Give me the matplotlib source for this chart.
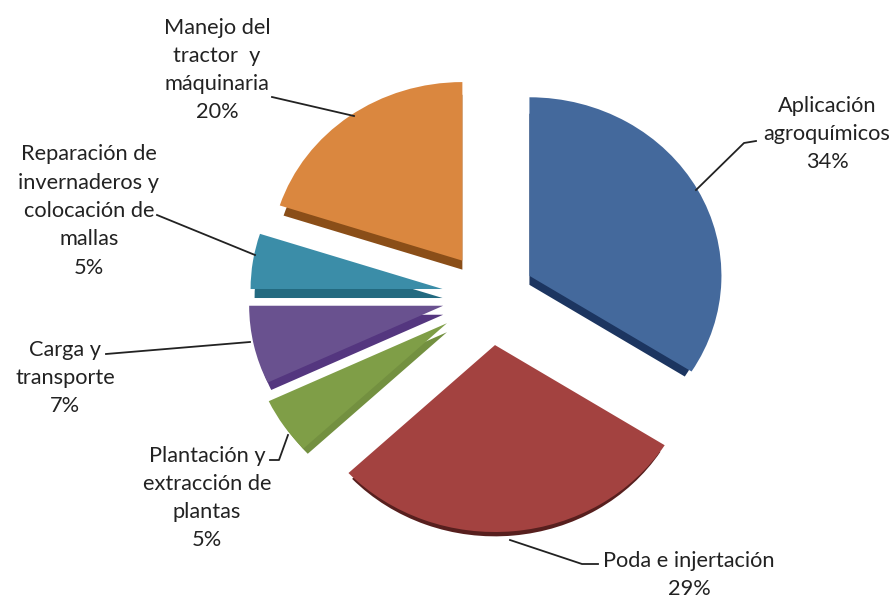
import matplotlib
matplotlib.use("Agg")
import matplotlib.pyplot as plt

categories = ["Aplicación\nagroquímicos", "Poda e injertación", "Plantación y\nextracción de\nplantas",
              "Carga y\ntransporte", "Reparación de\ninvernaderos y\ncolocación de\nmallas", "Manejo del\ntractor  y\nmáquinaria"]
values = [34, 29, 5, 7, 5, 20]
explode = [45, 53, 52, 48, 48, 47]
colors = ["#44699C", "#A34240", "#7F9E47", "#69518F", "#3B8DA8", "#DA873F"]
dark = ["#1C3560", "#571F1E", "#739040", "#54367F", "#236A80", "#8A4E18"]
radii = [192, 201, 197, 194, 192, 192]
depth_radii = [184, 196, 191, 190, 188, 188]
label_pos = [(827, 134), (689, 575), (207, 498), (65, 378), (89, 211), (217, 70)]
leaders = [([696, 744, 756], [190, 143, 141]), ([510, 582, 598], [540, 564, 564]),
           ([288, 279, 270], [435, 460, 460]), ([106, 250], [354, 342]),
           ([157, 255], [215, 255]), ([272, 354], [97, 116])]

W, H = 896, 600
RATIO = 0.93
CX, CY = 490, 296

fig = plt.figure(figsize=(W / 100, H / 100), dpi=100, facecolor="white")
ax = fig.add_axes([0, 0, 1, 1])

def draw(cy, rad, cols):
    wedges, _ = ax.pie(values, explode=explode, colors=cols, startangle=90, counterclock=False,
                       radius=192, center=(CX, (H - cy) / RATIO), frame=True,
                       wedgeprops=dict(linewidth=0))
    for w, r in zip(wedges, rad):
        w.set_radius(r)

draw(CY + 9, depth_radii, dark)
draw(CY, radii, colors)
ax.set_aspect("auto")
ax.set_xlim(0, W)
ax.set_ylim(0, H / RATIO)
ax.axis("off")

ov = fig.add_axes([0, 0, 1, 1], facecolor="none")
ov.set_xlim(0, W)
ov.set_ylim(H, 0)
ov.axis("off")
for (xs, ys) in leaders:
    ov.plot(xs, ys, color="#222222", lw=1.3)
for cat, val, (x, y) in zip(categories, values, label_pos):
    ov.text(x, y, f"{cat}\n{val}%", ha="center", va="center", family="Lato",
            fontsize=15.7, color="#222222", linespacing=1.52)

fig.savefig("out.png", dpi=100)
